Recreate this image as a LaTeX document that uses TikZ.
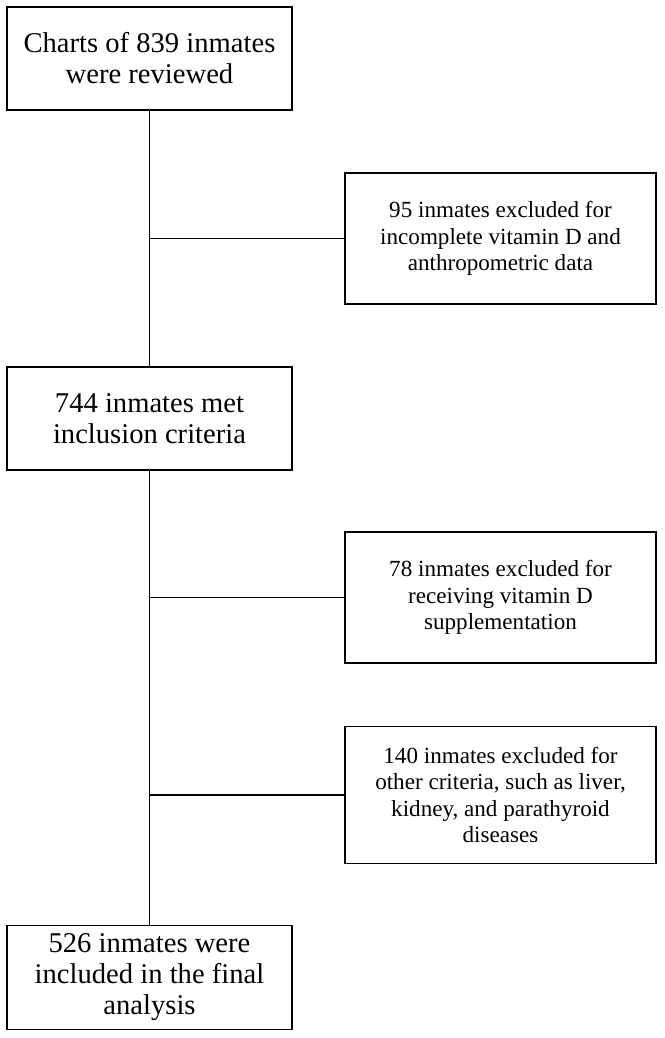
\documentclass[tikz,border=0pt]{standalone}
\usepackage{fontspec}
\setmainfont{Liberation Serif}
\begin{document}
\begin{tikzpicture}[x=1pt,y=-1pt,
  mainbox/.style={draw, line width=1.3pt, minimum width=285pt, minimum height=103pt, align=center, inner sep=0pt, font=\fontsize{28.6}{31}\selectfont},
  sidebox/.style={draw, line width=1.3pt, minimum width=311pt, align=center, inner sep=0pt, font=\fontsize{23.1}{26.6}\selectfont},
  link/.style={line width=1.3pt}]
\useasboundingbox (0,0) rectangle (664,1038);
\node[mainbox] (b1) at (149.5,58.5) {Charts of 839 inmates\\were reviewed};
\node[sidebox, minimum height=131pt] (b2) at (500.5,238.5) {95 inmates excluded for\\incomplete vitamin D and\\anthropometric data};
\node[mainbox] (b3) at (149.5,418.5) {744 inmates met\\inclusion criteria};
\node[sidebox, minimum height=131pt] (b4) at (500.5,597.5) {78 inmates excluded for\\receiving vitamin D\\supplementation};
\node[sidebox, minimum height=137pt] (b5) at (500.5,795) {140 inmates excluded for\\other criteria, such as liver,\\kidney, and parathyroid\\diseases};
\node[mainbox, minimum height=104pt] (b6) at (149.5,977.5) {526 inmates were\\included in the final\\analysis};
\draw[link] (b1.south) -- (b3.north);
\draw[link] (b3.south) -- (b6.north);
\draw[link] (b1.south |- b2.west) -- (b2.west);
\draw[link] (b3.south |- b4.west) -- (b4.west);
\draw[link] (b3.south |- b5.west) -- (b5.west);
\end{tikzpicture}
\end{document}
